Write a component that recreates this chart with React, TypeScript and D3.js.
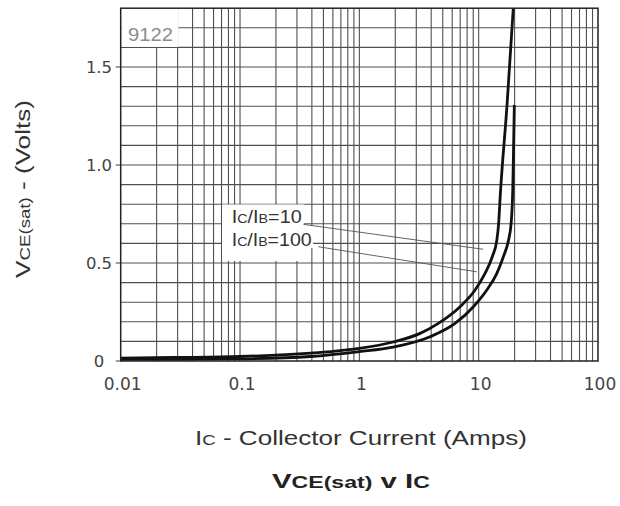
import React, { useLayoutEffect, useRef, useState } from 'react';
import * as d3 from 'd3';

// ---- data ----
const xTickValues = [0.01, 0.1, 1, 10, 100];
const xTickLabels = ['0.01', '0.1', '1', '10', '100'];
const yTickValues = [0, 0.5, 1.0, 1.5];
const yTickLabels = ['0', '0.5', '1.0', '1.5'];
const yGridValues = [0.1, 0.2, 0.3, 0.4, 0.5, 0.6, 0.7, 0.8, 0.9, 1.0, 1.1, 1.2, 1.3, 1.4, 1.5, 1.6, 1.7];

// left / upper curve
const currentLeft = [0.01, 0.03, 0.1, 0.39, 1, 1.92, 3.23, 4.59, 6.98, 9.33, 11.3, 13.0, 14.2, 14.7, 15.15, 17.3, 19.5];
const vceLeft = [0.015, 0.018, 0.023, 0.04, 0.064, 0.097, 0.141, 0.192, 0.277, 0.362, 0.447, 0.532, 0.617, 0.702, 0.84, 1.31, 1.8];
// right / lower curve
const currentRight = [0.01, 0.03, 0.1, 0.39, 1, 1.92, 3.92, 6.34, 9.03, 11.7, 14.2, 16.1, 17.8, 18.7, 19.3, 19.6, 19.9];
const vceRight = [0.008, 0.009, 0.011, 0.023, 0.048, 0.071, 0.124, 0.192, 0.277, 0.362, 0.447, 0.532, 0.617, 0.702, 0.872, 1.08, 1.306];

// leader lines for the Ic/Ib labels (data units)
const leaderStart = [[0.34, 0.697], [0.453, 0.583]];
const leaderEnd = [[10.9, 0.57], [9.64, 0.455]];

const W = 620, H = 506;
const FONT = "'Liberation Sans', Arial, Helvetica, sans-serif";

function FitText({ x, y, width, anchor = 'start', rotate = 0, style, children }: any) {
  const ref = useRef<SVGTextElement>(null);
  const [sx, setSx] = useState(1);
  useLayoutEffect(() => {
    const el = ref.current;
    if (!el) return;
    const w = el.getBBox().width;
    if (w > 0) setSx(width / w);
  }, [width]);
  return (
    <g transform={`translate(${x},${y}) rotate(${rotate})`}>
      <text ref={ref} transform={`scale(${sx},1)`} textAnchor={anchor} style={style}>
        {children}
      </text>
    </g>
  );
}

export default function App() {
  useLayoutEffect(() => {
    document.body.style.margin = '0';
  }, []);

  const x = d3.scaleLog().domain([0.01, 100]).range([120.7, 598]);
  const y = d3.scaleLinear().domain([0, 1.8]).range([361, 8.2]);

  const xGrid: number[] = [];
  for (let d = -2; d <= 1; d++) {
    for (let k = 1; k <= 9; k++) {
      const v = k * Math.pow(10, d);
      if (v > 0.01 && v < 100) xGrid.push(v);
    }
  }

  const line = d3
    .line<[number, number]>()
    .x((d) => x(d[0]))
    .y((d) => y(d[1]))
    .curve(d3.curveMonotoneX);

  const leftPts = currentLeft.map((c, i) => [c, vceLeft[i]] as [number, number]);
  const rightPts = currentRight.map((c, i) => [c, vceRight[i]] as [number, number]);

  const [x0, x1] = x.range();
  const [y0, y1] = y.range();
  const gridColor = '#505050';
  const textColor = '#333';

  return (
    <svg width={W} height={H} style={{ position: 'absolute', left: 0, top: 0, background: '#fff' }} fontFamily={FONT}>
      <rect x={0} y={0} width={W} height={H} fill="#fff" />
      {/* grid */}
      {xGrid.map((v) => (
        <line key={'gx' + v} x1={x(v)} x2={x(v)} y1={y0} y2={y1} stroke={gridColor} strokeWidth={1.1} />
      ))}
      {yGridValues.map((v) => (
        <line key={'gy' + v} x1={x0} x2={x1} y1={y(v)} y2={y(v)} stroke={gridColor} strokeWidth={1.1} />
      ))}
      {/* y ticks */}
      {yTickValues.map((v) => (
        <line key={'ty' + v} x1={x0 - 5} x2={x0} y1={y(v)} y2={y(v)} stroke={gridColor} strokeWidth={1.1} />
      ))}

      {/* label boxes */}
      <rect x={x0 + 0.8} y={y1 + 0.8} width={57} height={y(1.6) - y1 - 1.3} fill="#fff" />
      <rect x={222} y={204.5} width={82} height={22} fill="#fff" />
      <rect x={222} y={226} width={91} height={22} fill="#fff" />
      <rect x={222} y={247} width={78} height={14} fill="#fff" />

      {/* leader lines */}
      {leaderStart.map((s, i) => (
        <line
          key={'ld' + i}
          x1={x(s[0])}
          y1={y(s[1])}
          x2={x(leaderEnd[i][0])}
          y2={y(leaderEnd[i][1])}
          stroke="#555"
          strokeWidth={0.9}
        />
      ))}

      {/* curves */}
      <path d={line(leftPts) || ''} fill="none" stroke="#111" strokeWidth={2.8} />
      <path d={line(rightPts) || ''} fill="none" stroke="#111" strokeWidth={2.8} />

      {/* frame */}
      <rect x={x0} y={y1} width={x1 - x0} height={y0 - y1} fill="none" stroke="#222" strokeWidth={1.5} />

      {/* tick labels */}
      {xTickValues.map((v, i) => (
        <text
          key={'xl' + v}
          x={x(v) + 2}
          y={390}
          textAnchor="middle"
          fontFamily="'DejaVu Sans', sans-serif"
          fontSize={17}
          fill="#444"
        >
          {xTickLabels[i]}
        </text>
      ))}
      {yTickValues.map((v, i) => (
        <text
          key={'yl' + v}
          x={99}
          y={y(v)}
          dy="0.36em"
          textAnchor="middle"
          fontFamily="'DejaVu Sans', sans-serif"
          fontSize={16.5}
          fill="#444"
        >
          {yTickLabels[i]}
        </text>
      ))}

      {/* 9122 */}
      <FitText x={128} y={41} width={45} style={{ fontSize: 18, fill: '#8c8c8c' }}>
        9122
      </FitText>

      {/* annotations */}
      <FitText x={231.7} y={223.3} width={70} style={{ fontSize: 18, fill: textColor }}>
        <tspan>I</tspan>
        <tspan fontSize={13}>C</tspan>
        <tspan>/I</tspan>
        <tspan fontSize={13}>B</tspan>
        <tspan>=10</tspan>
      </FitText>
      <FitText x={231.7} y={245.7} width={80} style={{ fontSize: 18, fill: textColor }}>
        <tspan>I</tspan>
        <tspan fontSize={13}>C</tspan>
        <tspan>/I</tspan>
        <tspan fontSize={13}>B</tspan>
        <tspan>=100</tspan>
      </FitText>

      {/* axis titles */}
      <FitText x={195} y={445} width={332} style={{ fontSize: 21, fill: textColor }}>
        <tspan>I</tspan>
        <tspan fontSize={15}>C</tspan>
        <tspan> - Collector Current (Amps)</tspan>
      </FitText>
      <FitText x={30} y={189} width={178} anchor="middle" rotate={-90} style={{ fontSize: 21, fill: textColor }}>
        <tspan>V</tspan>
        <tspan fontSize={15}>CE(sat)</tspan>
        <tspan> - (Volts)</tspan>
      </FitText>

      {/* chart title */}
      <FitText x={272} y={488} width={158} style={{ fontSize: 21, fill: '#222', fontWeight: 'bold' }}>
        <tspan>V</tspan>
        <tspan fontSize={16.5}>CE(sat)</tspan>
        <tspan> v I</tspan>
        <tspan fontSize={16.5}>C</tspan>
      </FitText>
    </svg>
  );
}
